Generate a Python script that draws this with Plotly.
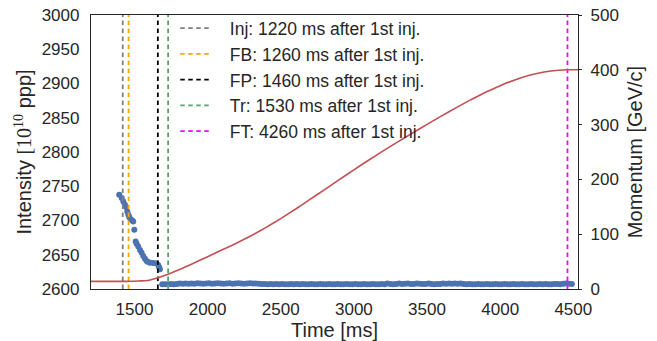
import plotly.graph_objects as go

# ---------------- data ----------------
first_inj_ms = 200
event_names = ["Inj", "FB", "FP", "Tr", "FT"]
event_after_inj = [1220, 1260, 1460, 1530, 4260]
event_colors = ["#808080", "#FFA500", "#000000", "#55A868", "#FF00FF"]

# intensity: decay during injection / flat bottom
decay_t = [1396, 1413, 1424, 1435, 1442, 1451, 1458, 1465, 1474, 1485, 1492, 1499,
           1508, 1515, 1526, 1538, 1549, 1560, 1572, 1583, 1594, 1606, 1628, 1651,
           1662, 1669, 1674]
decay_i = [2737.6, 2732.8, 2727.8, 2723.0, 2719.6, 2713.2, 2708.3, 2705.0, 2702.0,
           2700.0, 2698.5, 2686.4, 2669.3, 2665.9, 2662.0, 2657.0, 2653.0, 2648.3,
           2644.0, 2641.0, 2639.5, 2638.5, 2638.0, 2637.6, 2635.0, 2631.8, 2628.8]

# intensity: acceleration (near 2607)
band_t = [1690, 1710, 1730, 1750, 1770, 1790, 1810, 1830, 1850, 1870,
          1890, 1910, 1930, 1950, 1970, 1990, 2010, 2030, 2050, 2070,
          2090, 2110, 2130, 2150, 2170, 2190, 2210, 2230, 2250, 2270,
          2290, 2310, 2330, 2350, 2370, 2390, 2410, 2430, 2450, 2470,
          2490, 2510, 2530, 2550, 2570, 2590, 2610, 2630, 2650, 2670,
          2690, 2710, 2730, 2750, 2770, 2790, 2810, 2830, 2850, 2870,
          2890, 2910, 2930, 2950, 2970, 2990, 3010, 3030, 3050, 3070,
          3090, 3110, 3130, 3150, 3170, 3190, 3210, 3230, 3250, 3270,
          3290, 3310, 3330, 3350, 3370, 3390, 3410, 3430, 3450, 3470,
          3490, 3510, 3530, 3550, 3570, 3590, 3610, 3630, 3650, 3670,
          3690, 3710, 3730, 3750, 3770, 3790, 3810, 3830, 3850, 3870,
          3890, 3910, 3930, 3950, 3970, 3990, 4010, 4030, 4050, 4070,
          4090, 4110, 4130, 4150, 4170, 4190, 4210, 4230, 4250, 4270,
          4290, 4310, 4330, 4350, 4370, 4390, 4410, 4430, 4450, 4470,
          4490]
band_i = [2606.8, 2607.0, 2607.0, 2607.2, 2607.0, 2607.4, 2608.0, 2607.6, 2608.2, 2607.8,
          2608.2, 2607.8, 2608.4, 2608.0, 2607.6, 2608.2, 2608.4, 2607.8, 2608.0, 2608.4,
          2608.2, 2607.8, 2608.0, 2608.4, 2607.6, 2608.0, 2608.4, 2608.2, 2607.8, 2608.0,
          2608.4, 2608.0, 2608.2, 2607.6, 2607.2, 2607.4, 2607.0, 2607.2, 2607.0, 2607.2,
          2607.0, 2607.2, 2607.0, 2607.0, 2607.2, 2607.0, 2607.2, 2607.0, 2607.4, 2607.0,
          2607.0, 2607.2, 2607.0, 2607.0, 2607.2, 2607.0, 2607.0, 2607.2, 2607.0, 2607.0,
          2607.2, 2607.0, 2607.0, 2607.2, 2607.0, 2607.0, 2607.2, 2607.0, 2607.0, 2607.2,
          2607.0, 2607.0, 2607.2, 2607.0, 2607.0, 2607.2, 2607.0, 2608.0, 2607.2, 2607.0,
          2607.2, 2608.0, 2607.4, 2607.6, 2608.2, 2607.2, 2607.4, 2608.0, 2607.8, 2607.2,
          2607.4, 2608.0, 2607.2, 2607.0, 2607.2, 2607.4, 2608.0, 2607.6, 2608.2, 2607.8,
          2608.0, 2607.6, 2608.0, 2607.2, 2607.0, 2607.2, 2607.0, 2607.0, 2607.2, 2607.0,
          2607.0, 2607.2, 2607.0, 2607.0, 2607.2, 2607.0, 2607.0, 2607.2, 2607.0, 2607.0,
          2607.2, 2607.0, 2607.0, 2607.2, 2607.0, 2607.0, 2607.2, 2607.0, 2607.0, 2607.2,
          2607.0, 2607.2, 2607.0, 2607.0, 2607.2, 2607.4, 2607.0, 2607.6, 2608.0, 2607.8,
          2607.4]

# momentum program
mom_t = [1150, 1450, 1500, 1550, 1600, 1650, 1700, 1750, 1800, 1850, 1900, 2000,
         2100, 2200, 2300, 2400, 2500, 2600, 2700, 2800, 2900, 3000, 3100, 3200,
         3300, 3400, 3500, 3600, 3700, 3800, 3900, 4000, 4100, 4200, 4300, 4400,
         4460, 4600]
mom_p = [14, 14, 14.2, 14.8, 16, 19.5, 24, 29, 34.5, 40.5, 46.5, 59,
         71.5, 84, 97.5, 112.5, 128.5, 145.5, 163.5, 181.5, 199.5, 217.5, 235, 252,
         268.5, 284.5, 300.5, 316, 331, 345.5, 359, 371, 381.5, 390, 396, 399.3,
         400, 400]

x_range = [1203, 4532]
y_range = [2600, 3000]
y2_range = [0, 500]

# ---------------- figure ----------------
BLUE = "#4C72B0"
RED = "#C44E52"
TXT = "#262626"
FONT = "Liberation Sans, Arial, sans-serif"

fig = go.Figure()

fig.add_trace(go.Scatter(x=decay_t + band_t, y=decay_i + band_i, mode="markers",
                         marker=dict(color=BLUE, size=6, line=dict(width=0)),
                         showlegend=False, hoverinfo="skip"))

for name, dt, col in zip(event_names, event_after_inj, event_colors):
    t = first_inj_ms + dt
    fig.add_trace(go.Scatter(
        x=[t, t], y=y_range, mode="lines",
        line=dict(color=col, width=1.8, dash="4.5px,3.5px"),
        name="\u00a0" * 3 + f"{name}: {dt} ms after 1st inj.",
        hoverinfo="skip"))

fig.add_trace(go.Scatter(x=mom_t, y=mom_p, mode="lines", yaxis="y2",
                         line=dict(color=RED, width=1.6, shape="spline", smoothing=0.3),
                         showlegend=False, hoverinfo="skip"))

axis_common = dict(showgrid=False, zeroline=False, showline=True, linecolor=TXT,
                   linewidth=1.25, automargin=False,
                   tickfont=dict(size=17, color=TXT, family=FONT))

fig.update_layout(
    width=657, height=341,
    margin=dict(l=91, r=79, t=15, b=52, autoexpand=False),
    paper_bgcolor="white", plot_bgcolor="white",
    font=dict(family=FONT, color=TXT),
    xaxis=dict(range=x_range, tickvals=[1500, 2000, 2500, 3000, 3500, 4000, 4500],
               mirror=True, ticks="", ticklabelstandoff=4,
               title=dict(text="Time [ms]", font=dict(size=20, color=TXT), standoff=4),
               **axis_common),
    yaxis=dict(range=y_range, tickvals=[2600, 2650, 2700, 2750, 2800, 2850, 2900, 2950, 3000],
               ticks="", ticklabelstandoff=7,
               title=dict(text="Intensity <span style=\"font-family:'Liberation Serif'\">[10<sup>10</sup></span> ppp]",
                          font=dict(size=20, color=TXT), standoff=4),
               **axis_common),
    yaxis2=dict(range=y2_range, overlaying="y", side="right",
                tickvals=[0, 100, 200, 300, 400, 500],
                ticks="outside", ticklen=3, tickcolor=TXT, ticklabelstandoff=5,
                title=dict(text="Momentum [GeV/c]", font=dict(size=20, color=TXT), standoff=10),
                **axis_common),
    legend=dict(x=0.173, y=1.017, xanchor="left", yanchor="top",
                bgcolor="rgba(0,0,0,0)", borderwidth=0,
                font=dict(size=17.5, color=TXT, family=FONT),
                tracegroupgap=0, itemwidth=30),
    showlegend=True,
)

fig.write_html("out.html")
